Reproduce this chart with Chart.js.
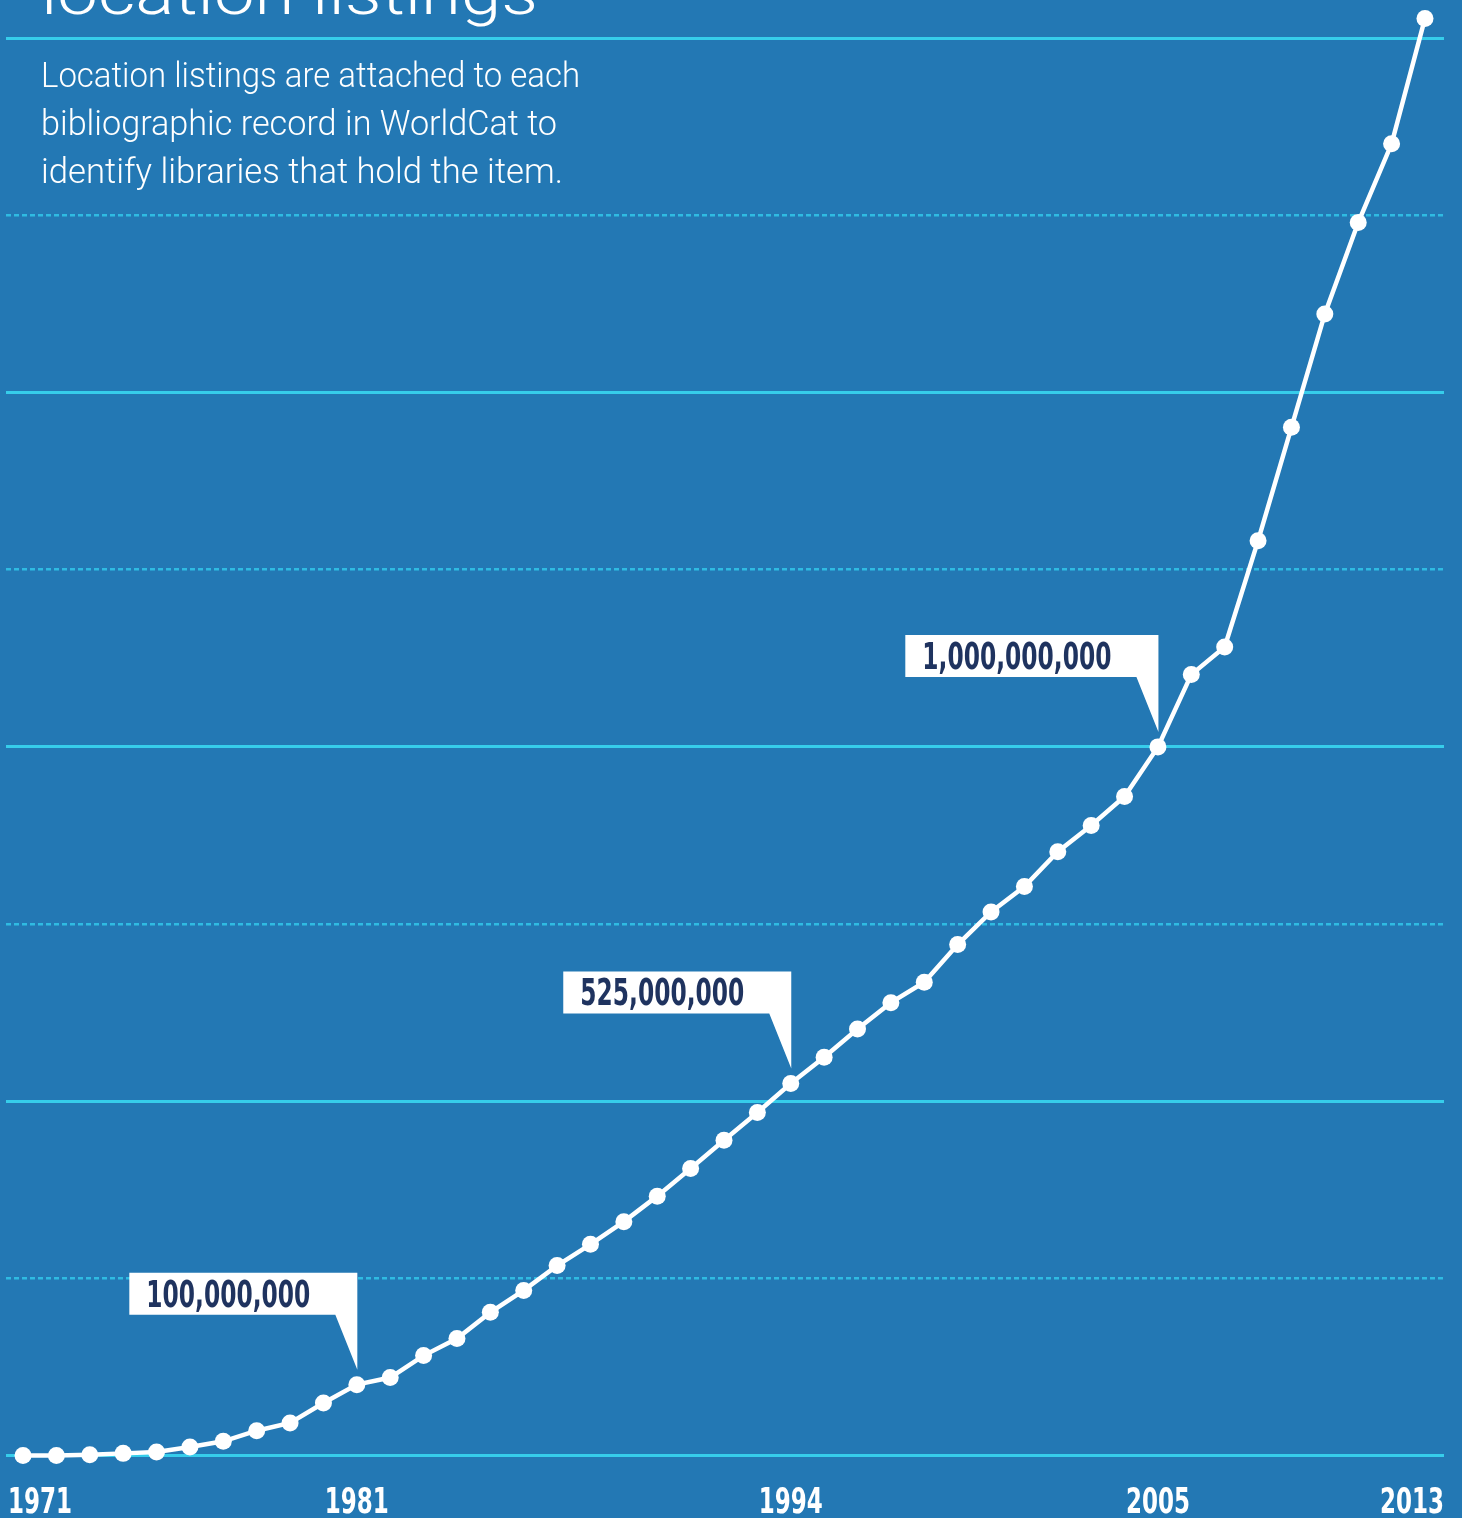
<!DOCTYPE html>
<html>
<head>
<meta charset="utf-8">
<script src="https://cdn.jsdelivr.net/npm/chart.js@4"></script>
<style>
  html, body { margin: 0; padding: 0; background: #2378b4; }
  #wrap { width: 1462px; height: 1518px; position: relative; }
</style>
</head>
<body>
<div id="wrap"><canvas id="listingsChart"></canvas></div>
<script>
// one point per year
var years = [1971, 1972, 1973, 1974, 1975, 1976, 1977, 1978, 1979, 1980,
  1981, 1982, 1983, 1984, 1985, 1986, 1987, 1988, 1989, 1990,
  1991, 1992, 1993, 1994, 1995, 1996, 1997, 1998, 1999, 2000,
  2001, 2002, 2003, 2004, 2005, 2006, 2007, 2008, 2009, 2010,
  2011, 2012, 2013];

// location listings in WorldCat, millions
var listings = [0, 0, 1, 3, 5, 12, 20, 35, 46, 74,
  100, 110, 141, 165, 202, 233, 268, 298, 330, 366,
  405, 445, 484, 525, 562, 602, 639, 668, 721, 767,
  803, 852, 889, 930, 1000, 1102, 1141, 1291, 1451, 1611,
  1740, 1851, 2028];

// labels under the axis
var tickYears = [1971, 1981, 1994, 2005, 2013];

// milestone callouts
var calloutYears = [1981, 1994, 2005];
var calloutLabels = ["100,000,000", "525,000,000", "1,000,000,000"];

// horizontal rules (millions)
var majorTicks = [0, 500, 1000, 1500, 2000];
var minorTicks = [250, 750, 1250, 1750];

var titleText = "location listings";
var subtitleLines = [
  "Location listings are attached to each",
  "bibliographic record in WorldCat to",
  "identify libraries that hold the item."
];
var subtitleWidths = [539, 516, 522];

var narrowFont = "'Liberation Sans Narrow', 'DejaVu Sans Condensed', 'Roboto Condensed', sans-serif";
var lightFont = "Roboto, Inter, 'Open Sans', sans-serif";

function fitText(c, text, x, y, sx) {
  c.save();
  c.translate(x, y);
  c.scale(sx, 1);
  c.fillText(text, 0, 0);
  c.restore();
}

var overlay = {
  id: "overlay",
  afterDraw: function (chart) {
    var c = chart.ctx;
    var xs = chart.scales.x;
    var ys = chart.scales.y;
    var area = chart.chartArea;
    c.save();
    c.textBaseline = "alphabetic";
    c.textAlign = "left";

    // title, cut off by the top edge
    c.fillStyle = "#ffffff";
    c.font = "300 62px " + lightFont;
    fitText(c, titleText, 41, 14, 497 / c.measureText(titleText).width);

    // intro text
    c.font = "300 35px " + lightFont;
    subtitleLines.forEach(function (line, i) {
      var k = subtitleWidths[i] / c.measureText(line).width;
      fitText(c, line, 41, 87 + i * 48, k);
    });

    // callouts
    c.font = "bold 37px " + narrowFont;
    var kc = 164 / c.measureText(calloutLabels[0]).width;
    calloutYears.forEach(function (yr, i) {
      var idx = years.indexOf(yr);
      var px = xs.getPixelForValue(yr);
      var py = ys.getPixelForValue(listings[idx]);
      var tw = c.measureText(calloutLabels[i]).width * kc;
      var right = px + 0.5;
      var left = right - (17 + tw + 47);
      var top = py - 112;
      var bottom = top + 42;
      c.fillStyle = "#ffffff";
      c.beginPath();
      c.moveTo(left, top);
      c.lineTo(right, top);
      c.lineTo(right, py - 15);
      c.lineTo(right - 22, bottom);
      c.lineTo(left, bottom);
      c.closePath();
      c.fill();
      c.fillStyle = "#1f335f";
      fitText(c, calloutLabels[i], left + 17, top + 34, kc);
    });

    // year labels
    c.font = "bold 36px " + narrowFont;
    c.fillStyle = "#ffffff";
    var kx = 64 / c.measureText("1971").width;
    tickYears.forEach(function (yr) {
      var label = String(yr);
      var w = c.measureText(label).width * kx;
      var lx = xs.getPixelForValue(yr) - w / 2;
      if (lx < area.left + 2) lx = area.left + 2;
      if (lx + w > area.right) lx = area.right - w;
      fitText(c, label, lx, 1513, kx);
    });
    c.restore();
  }
};

var ctx = document.getElementById("listingsChart").getContext("2d");
var listingsChart = new Chart(ctx, {
  type: "line",
  data: {
    datasets: [
      {
        data: years.map(function (yr, i) { return { x: yr, y: listings[i] }; }),
        borderColor: "#ffffff",
        borderWidth: 4.5,
        pointRadius: 8.5,
        pointHoverRadius: 8.5,
        pointBackgroundColor: "#ffffff",
        pointBorderWidth: 0,
        tension: 0,
        clip: false
      }
    ]
  },
  options: {
    responsive: true,
    maintainAspectRatio: false,
    animation: false,
    events: [],
    layout: {
      autoPadding: false,
      padding: { left: 6, right: 18, top: 0, bottom: 62.5 }
    },
    plugins: {
      legend: { display: false },
      tooltip: { enabled: false }
    },
    scales: {
      x: { type: "linear", display: false, min: 1970.49, max: 2013.57 },
      y: {
        min: 0,
        max: 2054,
        afterBuildTicks: function (s) {
          s.ticks = majorTicks.map(function (v) { return { value: v }; });
        },
        afterFit: function (s) { s.width = 0; },
        ticks: { display: false },
        grid: { color: "#36cdeb", lineWidth: 3, drawTicks: false },
        border: { display: false }
      },
      yMinor: {
        position: "left",
        min: 0,
        max: 2054,
        afterBuildTicks: function (s) {
          s.ticks = minorTicks.map(function (v) { return { value: v }; });
        },
        afterFit: function (s) { s.width = 0; },
        ticks: { display: false },
        grid: { color: "#2fbbe2", lineWidth: 2.5, drawTicks: false },
        border: { display: false, dash: [5, 3] }
      }
    }
  },
  plugins: [overlay]
});
</script>
</body>
</html>
